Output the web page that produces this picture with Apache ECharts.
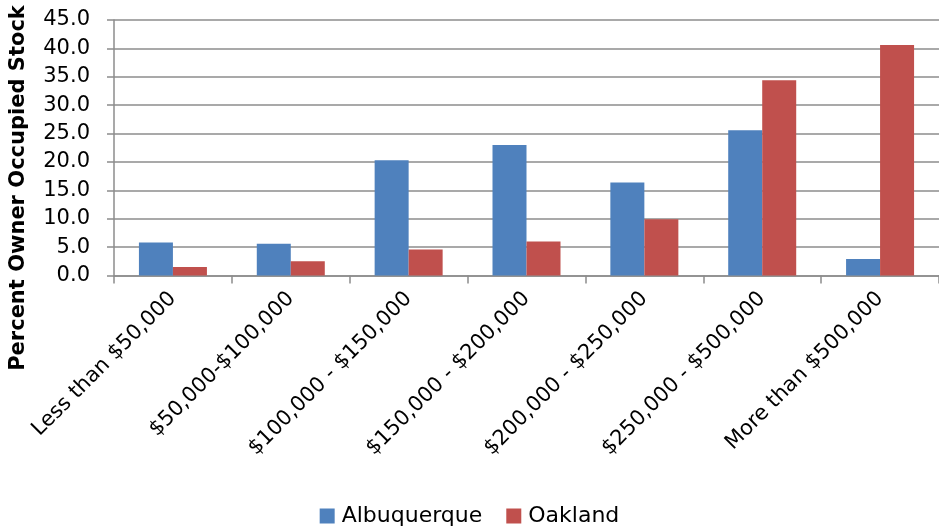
<!DOCTYPE html>
<html>
<head>
<meta charset="utf-8">
<script src="https://cdn.jsdelivr.net/npm/echarts@6/dist/echarts.min.js"></script>
<style>
  html, body { margin: 0; padding: 0; background: #fff; }
  #chart { width: 939px; height: 529px; }
</style>
</head>
<body>
<div id="chart"></div>
<script>
var categories = ['Less than $50,000', '$50,000-$100,000', '$100,000 - $150,000', '$150,000 - $200,000',
    '$200,000 - $250,000', '$250,000 - $500,000', 'More than $500,000'];
var albuquerque = [5.8, 5.6, 20.3, 23.0, 16.4, 25.6, 2.9];
var oakland = [1.5, 2.5, 4.6, 6.0, 9.9, 34.4, 40.6];
var yTicks = [0, 5, 10, 15, 20, 25, 30, 35, 40, 45];

var font = 'DejaVu Sans';
var gridColor = '#8c8c8c';

var myChart = echarts.init(document.getElementById('chart'));
var option = {
    backgroundColor: '#fff',
    animation: false,
    textStyle: { fontFamily: font },
    grid: {
        left: 114,
        top: 20,
        width: 836,
        height: 255.5,
        containLabel: false,
    },
    legend: {
        top: 500,
        left: 'center',
        itemWidth: 15,
        itemHeight: 15,
        itemGap: 24,
        icon: 'rect',
        textStyle: { fontSize: 22, color: '#000', fontFamily: font, padding: [0, 0, 0, 2] },
        data: ['Albuquerque', 'Oakland'],
    },
    graphic: [{
        type: 'text',
        x: 19,
        y: 188,
        rotation: Math.PI / 2,
        style: {
            text: 'Percent Owner Occupied Stock',
            fontFamily: font,
            fontSize: 21,
            fontWeight: 'bold',
            fill: '#000',
            textAlign: 'center',
            textVerticalAlign: 'middle',
        },
    }],
    xAxis: {
        type: 'category',
        data: categories,
        axisLine: { lineStyle: { color: gridColor, width: 1.5 } },
        axisTick: { show: true, length: 8, lineStyle: { color: gridColor, width: 1.5 } },
        axisLabel: {
            rotate: 45,
            interval: 0,
            margin: 20,
            fontSize: 21,
            color: '#000',
            fontFamily: font,
        },
    },
    yAxis: {
        type: 'value',
        min: yTicks[0],
        max: yTicks[yTicks.length - 1],
        interval: 5,
        axisLine: { show: true, lineStyle: { color: gridColor, width: 1.5 } },
        axisTick: { show: true, length: 7, lineStyle: { color: gridColor, width: 1.5 } },
        splitLine: { show: true, lineStyle: { color: gridColor, width: 1.5 } },
        axisLabel: {
            margin: 24,
            fontSize: 21,
            color: '#000',
            fontFamily: font,
            formatter: function (v) { return v.toFixed(1); },
        },
    },
    series: [
        {
            name: 'Albuquerque',
            type: 'bar',
            barWidth: 34,
            barGap: '0%',
            itemStyle: { color: '#4F81BD' },
            data: albuquerque,
        },
        {
            name: 'Oakland',
            type: 'bar',
            barWidth: 34,
            barGap: '0%',
            itemStyle: { color: '#C0504D' },
            data: oakland,
        },
    ],
};
myChart.setOption(option);
</script>
</body>
</html>
